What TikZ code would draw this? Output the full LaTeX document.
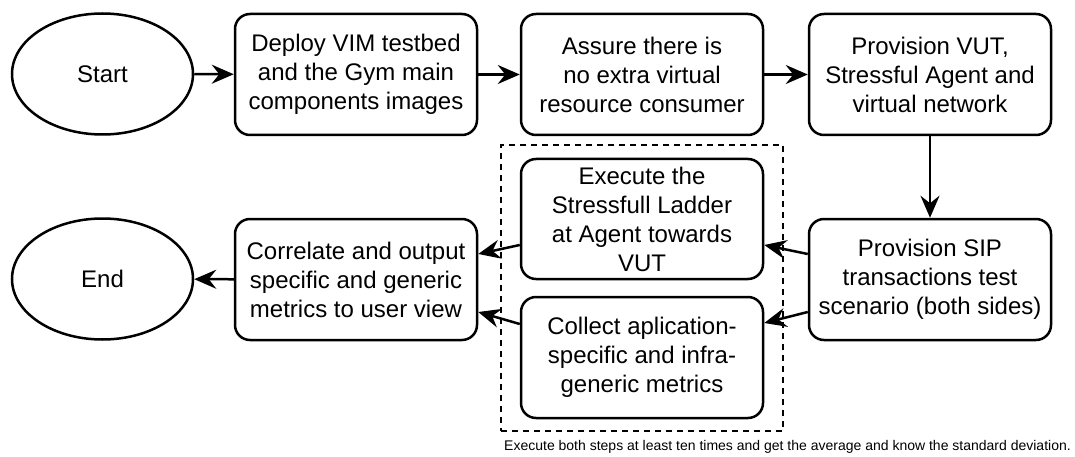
\documentclass[tikz,border=0pt]{standalone}
\usepackage{fontspec}
\setmainfont{Liberation Sans}
\usetikzlibrary{arrows.meta,shapes.geometric,calc}

\tikzset{
  flow/.style={line width=2.5pt, -{Stealth[length=22pt,width=19pt,inset=7.5pt]}},
  stepbox/.style={draw, line width=2.5pt, rounded corners=15pt, inner sep=0pt,
    minimum width=242pt, minimum height=121pt, align=center,
    font=\fontsize{24}{29}\selectfont},
  terminal/.style={draw, ellipse, line width=2.5pt, inner sep=0pt,
    minimum width=181pt, minimum height=121pt,
    font=\fontsize{24}{29}\selectfont},
  groupbox/.style={draw, dash pattern=on 6pt off 5pt, line width=2.5pt,
    inner sep=0pt, minimum width=282pt, minimum height=286pt},
}

\begin{document}
\begin{tikzpicture}[x=1pt, y=1pt]
  \useasboundingbox (0,0) rectangle (1075,-457);

  % loop group
  \node[groupbox] (group) at (642,-288) {};

  % top row
  \node[terminal] (start) at (102.5,-74) {Start};
  \node[stepbox] (deploy) at (356,-74.5) {Deploy VIM testbed\\and the Gym main\\components images};
  \node[stepbox] (assure) at (642,-74.5) {Assure there is\\no extra virtual\\resource consumer};
  \node[stepbox] (prov) at (930,-74.5) {Provision VUT,\\Stressful Agent and\\virtual network};

  % second row
  \node[stepbox] (sip) at (930,-279.5) {Provision SIP\\transactions test\\scenario (both sides)};
  \node[stepbox, minimum height=120pt] (exec) at (642,-219) {Execute the\\Stressfull Ladder\\at Agent towards\\VUT};
  \node[stepbox] (coll) at (642,-357.5) {Collect aplication-\\specific and infra-\\generic metrics};
  \node[stepbox] (corr) at (356,-279.5) {Correlate and output\\specific and generic\\metrics to user view};
  \node[terminal] (end) at (102.5,-279) {End};

  % note under the group
  \node[font=\fontsize{14}{16}\selectfont, inner sep=0pt] (note) at (787.5,-446.5)
    {Execute both steps at least ten times and get the average and know the standard deviation.};

  % connectors
  \draw[flow] (start) -- (deploy);
  \draw[flow] (deploy) -- (assure);
  \draw[flow] (assure) -- (prov);
  \draw[flow] (prov) -- (sip);
  \draw[flow] ($(sip.west)+(0,25.5)$) -- ($(exec.east)+(0,-26)$);
  \draw[flow] ($(sip.west)+(0,-32.5)$) -- ($(coll.east)+(0,34.5)$);
  \draw[flow] ($(exec.west)+(0,-26)$) -- ($(corr.east)+(0,25.5)$);
  \draw[flow] ($(coll.west)+(0,33.5)$) -- ($(corr.east)+(0,-32.5)$);
  \draw[flow] (corr) -- (end);
\end{tikzpicture}
\end{document}
